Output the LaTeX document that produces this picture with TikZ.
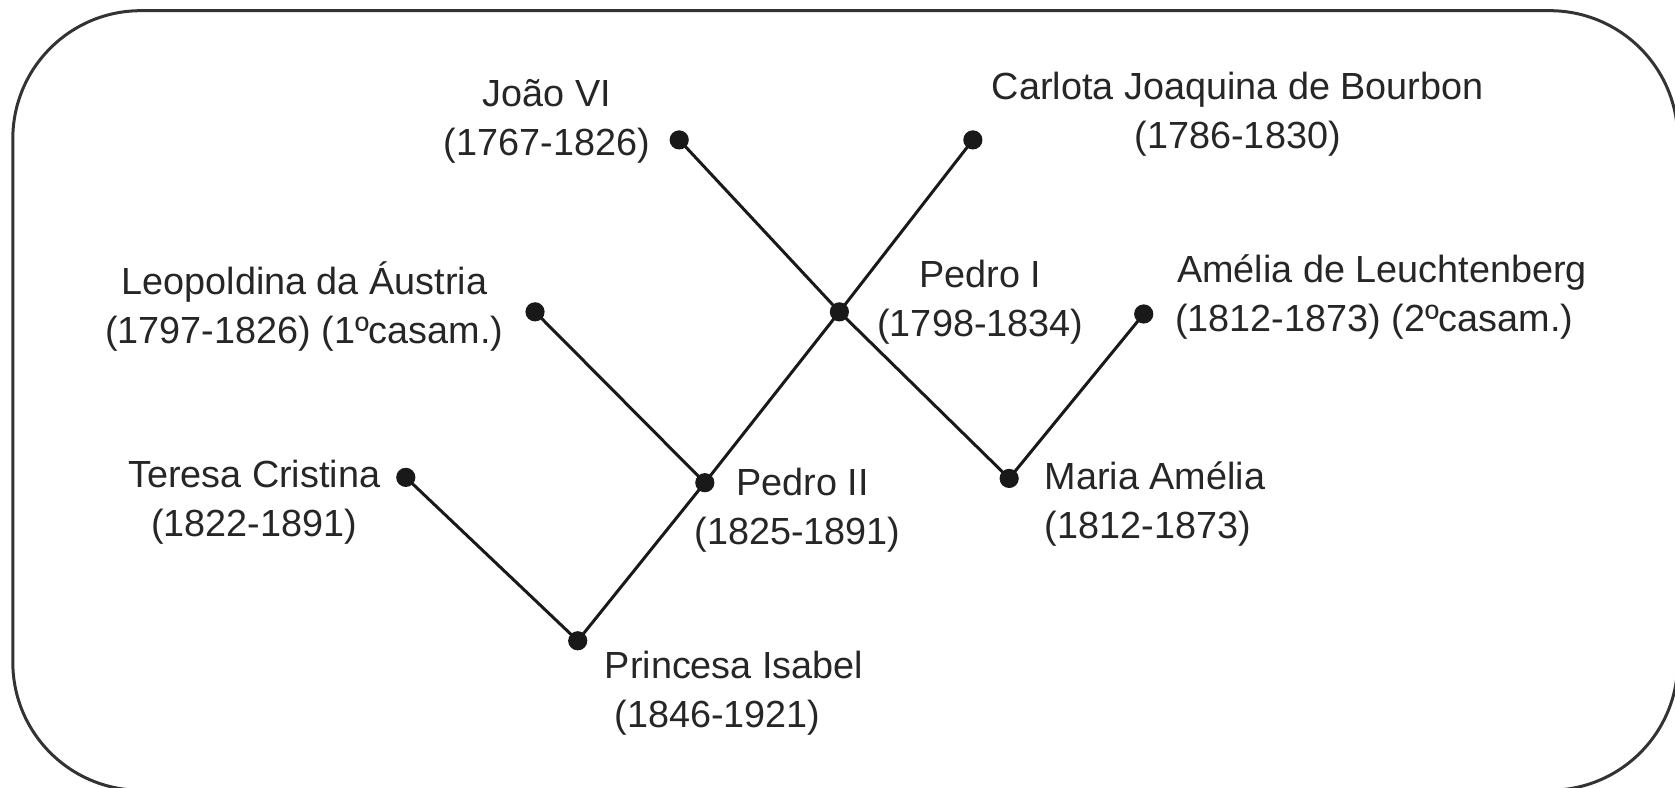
\documentclass[tikz,border=0pt]{standalone}
\usepackage{fontspec}
\setmainfont{Liberation Sans}
\begin{document}
\begin{tikzpicture}[x=0.534pt,y=-0.534pt,
  dot/.style={circle,fill=black!90,inner sep=0pt,minimum size=9.6pt},
  lbl/.style={inner sep=0pt,text=black!85,font=\fontsize{18.9}{24.6}\selectfont},
  link/.style={line width=1.5pt,black!90}]
\useasboundingbox (0,0) rectangle (1568.5,737);
\draw[line width=1.5pt,black!80,rounded corners=64pt] (12,10) rectangle (1571,740);
% dots
\node[dot] (joao) at (636,131) {};
\node[dot] (carlota) at (911,131) {};
\node[dot] (pedroI) at (786,292) {};
\node[dot] (leop) at (501,292) {};
\node[dot] (ameliaL) at (1071,294) {};
\node[dot] (pedroII) at (660,452) {};
\node[dot] (maria) at (945,448) {};
\node[dot] (teresa) at (380,447) {};
\node[dot] (isabel) at (541,600) {};
% links
\draw[link] (joao.center) -- (pedroI.center);
\draw[link] (pedroI.center) -- (maria.center);
\draw[link] (carlota.center) -- (pedroI.center);
\draw[link] (pedroI.center) -- (pedroII.center);
\draw[link] (pedroII.center) -- (isabel.center);
\draw[link] (leop.center) -- (pedroII.center);
\draw[link] (teresa.center) -- (isabel.center);
\draw[link] (ameliaL.center) -- (maria.center);
% labels
\node[lbl,align=center] (tjoao) at (512,114) {João VI\\(1767-1826)};
\node[lbl,align=center] (tcarlota) at (1159,107) {Carlota Joaquina de Bourbon\\(1786-1830)};
\node[lbl,align=center] (tpedroI) at (918,283) {Pedro I\\(1798-1834)};
\node[lbl,align=left,anchor=west] (tameliaL) at (1100,278) {\hspace{1pt}Amélia de Leuchtenberg\\(1812-1873) (2ºcasam.)};
\node[lbl,align=center] (tleop) at (285,287) {Leopoldina da Áustria\\(1797-1826) (1ºcasam.)};
\node[lbl,align=center] (tteresa) at (238,470) {Teresa Cristina\\(1822-1891)};
\node[lbl,align=left,anchor=west] (tpedroII) at (650,478) {\hspace{21pt}Pedro II\\(1825-1891)};
\node[lbl,align=left,anchor=west] (tmaria) at (978,472) {Maria Amélia\\(1812-1873)};
\node[lbl,align=left,anchor=west] (tisabel) at (566,649) {Princesa Isabel\\\hspace{4.8pt}(1846-1921)};
\end{tikzpicture}
\end{document}
